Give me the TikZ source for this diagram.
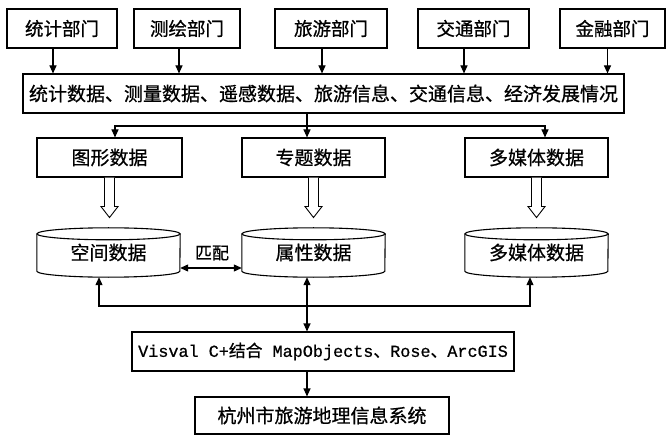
\documentclass[tikz,border=0pt]{standalone}
\usepackage{fontspec}
\setmainfont{Liberation Serif}
\newfontfamily\cjk[FakeBold=0.7]{Noto Sans CJK SC}
\newfontfamily\mono[FakeBold=0.7]{Liberation Mono}
\usetikzlibrary{calc,arrows.meta}
\begin{document}
\begin{tikzpicture}[x=1pt,y=1pt,
  box/.style={draw, line width=1.1pt, inner sep=0pt, font=\cjk\fontsize{19}{21}\selectfont},
  topbox/.style={box, minimum height=39pt, font=\cjk\fontsize{18.5}{20}\selectfont},
  cyl/.style={inner sep=0pt, minimum width=143pt, minimum height=49pt, font=\cjk\fontsize{19}{21}\selectfont},
  conn/.style={line width=1.1pt},
  arr/.style={conn, -{Triangle[length=8pt,width=7pt]}},
  darr/.style={conn, {Triangle[length=8pt,width=7pt]}-{Triangle[length=8pt,width=7pt]}},
  hollow/.pic={\draw[line width=0.9pt, fill=white, line join=miter] (-5,0) -- (-5,-29) -- (-8.5,-29) -- (0,-40) -- (8.5,-29) -- (5,-29) -- (5,0);}
]
\useasboundingbox[fill=white] (0,0) rectangle (668,-435);

% top boxes
\node[topbox, minimum width=110pt] (t1) at (62,-28.5) {统计部门};
\node[topbox, minimum width=106pt] (t2) at (187,-28.5) {测绘部门};
\node[topbox, minimum width=112pt] (t3) at (331,-28.5) {旅游部门};
\node[topbox, minimum width=111pt] (t4) at (473.5,-28.5) {交通部门};
\node[topbox, minimum width=105pt] (t5) at (612.5,-28.5) {金融部门};

% combined data
\node[box, minimum width=601pt, minimum height=39pt] (big) at (323.5,-93.5) {统计数据、测量数据、遥感数据、旅游信息、交通信息、经济发展情况};

\foreach \n/\dx in {t1/-9, t2/-8, t3/-9, t4/-9.5, t5/-5} {
  \draw[arr] ($(\n.south)+(\dx,0)$) coordinate (tmp) -- (tmp |- big.north);
}

% second level
\node[box, minimum width=145pt, minimum height=39pt] (g1) at (109.5,-157.5) {图形数据};
\node[box, minimum width=143pt, minimum height=39pt] (g2) at (313.5,-157.5) {专题数据};
\node[box, minimum width=143pt, minimum height=39pt] (g3) at (536.5,-157.5) {多媒体数据};

\coordinate (split) at (307,-126);
\draw[conn] (split |- big.south) -- (split);
\draw[arr] (split) -| ($(g1.north)+(5.5,0)$);
\draw[arr] (split) -| ($(g3.north)+(8.5,0)$);
\draw[arr] (split) -- (split |- g2.north);

% hollow arrows
\pic at (g1.south) {hollow};
\pic at (g2.south) {hollow};
\pic at (g3.south) {hollow};

% cylinders
\node[cyl] (c1) at (108.5,-252.5) {空间数据};
\node[cyl] (c2) at (313.5,-252.5) {属性数据};
\node[cyl] (c3) at (536.5,-252.5) {多媒体数据};
\foreach \c in {c1,c2,c3} {
  \draw[line width=1.1pt] ($(\c.north west)+(0,-6)$) -- ($(\c.south west)+(0,6)$)
     arc[start angle=180, end angle=360, x radius=71.5pt, y radius=6pt]
     -- ($(\c.north east)+(0,-6)$);
  \draw[line width=1.1pt] ($(\c.north)+(0,-6)$) ellipse[x radius=71.5pt, y radius=6pt];
}

% matching arrow
\draw[darr] ($(c1.east)+(0,-15.5)$) -- ($(c2.west)+(0,-15.5)$);
\node[font=\cjk\fontsize{17}{19}\selectfont, inner sep=0pt] (pp) at (212,-253) {匹配};

% bottom part
\node[box, minimum width=382pt, minimum height=39pt] (vis) at (323,-351.5)
  {{\mono\fontsize{16.8}{19}\selectfont Visval C+}{\fontsize{16.8}{19}\selectfont 结合}{\mono\fontsize{16.8}{19}\selectfont\ MapObjects}{\fontsize{16.8}{19}\selectfont 、}{\mono\fontsize{16.8}{19}\selectfont Rose}{\fontsize{16.8}{19}\selectfont 、}{\mono\fontsize{16.8}{19}\selectfont ArcGIS}};
\node[box, minimum width=254pt, minimum height=37pt] (sys) at (322,-415.5) {杭州市旅游地理信息系统};

\coordinate (bus) at (307,-306);
\draw[arr] (bus) -| ($(c1.south)+(-9.5,0)$);
\draw[arr] (bus) -| ($(c3.south)+(-6.5,0)$);
\draw[darr] (bus |- c2.south) -- (bus |- vis.north);
\draw[arr] (bus |- vis.south) -- (bus |- sys.north);
\end{tikzpicture}
\end{document}
